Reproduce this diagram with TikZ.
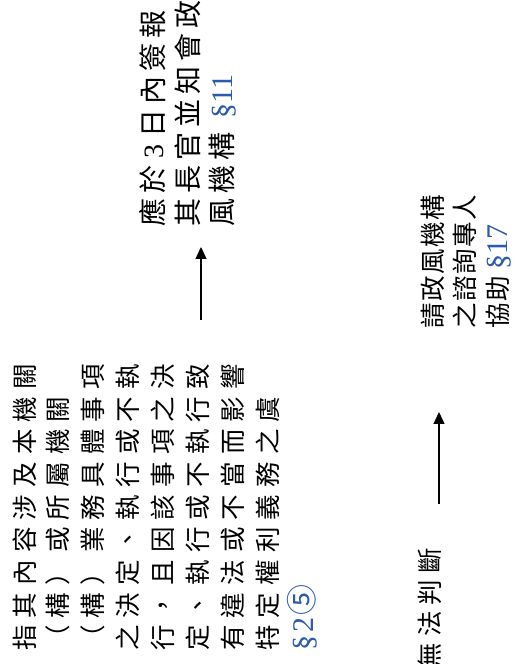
\documentclass[tikz,border=0pt]{standalone}
\usepackage{fontspec}
\setmainfont{Liberation Serif}
\newfontfamily\cjkbody[LetterSpace=28]{Noto Sans CJK TC}
\newfontfamily\cjktop[LetterSpace=18]{Noto Sans CJK TC}
\newfontfamily\cjkright[LetterSpace=6]{Noto Sans CJK TC}
\newfontfamily\cjkjudge[LetterSpace=25]{Noto Sans CJK TC}
\newfontfamily\cjkplain{Noto Sans CJK TC}
\usepackage{xcolor}
\usepackage{tikz}
\usetikzlibrary{arrows.meta}
\definecolor{secblue}{RGB}{45,90,170}
\newcommand\sect[1]{{\rmfamily\color{secblue}\fontsize{30}{34}\selectfont#1}}
\tikzset{
    colline/.style={rotate=90, anchor=base west, inner sep=0pt},
    bodyline/.style={colline, font=\cjkbody\fontsize{25.5}{30}\selectfont},
    topline/.style={colline, font=\cjktop\fontsize{28}{34}\selectfont},
    rightline/.style={colline, font=\cjkright\fontsize{25.5}{30}\selectfont},
    judgeline/.style={colline, font=\cjkjudge\fontsize{25.5}{30}\selectfont},
    uparrow/.style={line width=1.4pt, -{Triangle[length=12pt,width=11pt]}}}

\begin{document}
\begin{tikzpicture}[x=1pt,y=1pt]
\useasboundingbox (0,0) rectangle (520,664);
\clip (0,0) rectangle (520,664);

%text of the definition
\node[bodyline] (b1) at (34.7,13) {指其內容涉及本機關};
\node[bodyline] (b2) at (67.7,13) {（構）或所屬機關};
\node[bodyline] (b3) at (102.7,13) {（構）業務具體事項};
\node[bodyline] (b4) at (137.7,13) {之決定、執行或不執};
\node[bodyline] (b5) at (172.7,13) {行，且因該事項之決};
\node[bodyline] (b6) at (207.7,13) {定、執行或不執行致};
\node[bodyline] (b7) at (242.7,13) {有違法或不當而影響};
\node[bodyline] (b8) at (277.7,13) {特定權利義務之虞};
\node[bodyline] (b9) at (313.5,13) {\sect{§\kern3pt 2}\kern2pt{\cjkplain\color{secblue}\fontsize{31}{30}\selectfont ⑤}};

%report
\node[topline] (t1) at (163.5,437) {應於{\rmfamily\ 3\ }日內簽報};
\node[topline] (t2) at (198.5,437) {其長官並知會政};
\node[topline] (t3) at (232.5,437) {風機構\kern14pt\sect{§11}};

%cannot judge
\node[judgeline] (j1) at (439.7,-5) {無法判斷};
\node[rightline] (r1) at (442.7,335) {請政風機構};
\node[rightline] (r2) at (474.7,335) {之諮詢專人};
\node[rightline] (r3) at (507.7,335) {協助{\rmfamily\ }\sect{§17}};

%arrows
\coordinate (a1s) at (201,344);
\coordinate (a1e) at (201,417);
\coordinate (a2s) at (439,160);
\coordinate (a2e) at (439,252);
\draw[uparrow] (a1s) -- (a1e);
\draw[uparrow] (a2s) -- (a2e);
\end{tikzpicture}
\end{document}
